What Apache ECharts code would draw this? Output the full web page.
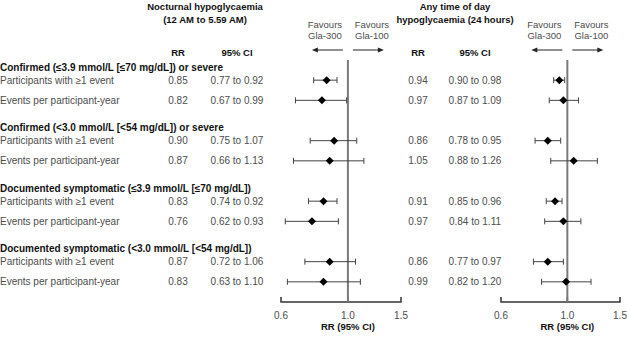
<!DOCTYPE html>
<html><head><meta charset="utf-8">
<script src="https://cdn.jsdelivr.net/npm/echarts@6/dist/echarts.min.js"></script>
<style>html,body{margin:0;padding:0;background:#fff}#c{width:627px;height:338px}</style>
</head><body><div id="c"></div>
<script>
var groupTitles = [
  "Confirmed (≤3.9 mmol/L [≤70 mg/dL]) or severe",
  "Confirmed (<3.0 mmol/L [<54 mg/dL]) or severe",
  "Documented symptomatic (≤3.9 mmol/L [≤70 mg/dL])",
  "Documented symptomatic (<3.0 mmol/L [<54 mg/dL])"
];
var rowLabels = ["Participants with ≥1 event", "Events per participant-year"];

var nocturnalRR   = [0.85, 0.82, 0.90, 0.87, 0.83, 0.76, 0.87, 0.83];
var nocturnalLow  = [0.77, 0.67, 0.75, 0.66, 0.74, 0.62, 0.72, 0.63];
var nocturnalHigh = [0.92, 0.99, 1.07, 1.13, 0.92, 0.93, 1.06, 1.10];

var anyTimeRR   = [0.94, 0.97, 0.86, 1.05, 0.91, 0.97, 0.86, 0.99];
var anyTimeLow  = [0.90, 0.87, 0.78, 0.88, 0.85, 0.84, 0.77, 0.82];
var anyTimeHigh = [0.98, 1.09, 0.95, 1.26, 0.96, 1.11, 0.97, 1.20];

var tickValues = [0.6, 1.0, 1.5];
var referenceValue = 1.0;
var panelTitles = [["Nocturnal hypoglycaemia", "(12 AM to 5.59 AM)"], ["Any time of day", "hypoglycaemia (24 hours)"]];
var favourLabels = ["Favours\nGla-300", "Favours\nGla-100"];
var colHeaders = ["RR", "95% CI"];
var axisTitle = "RR (95% CI)";

var FONT = '"Liberation Sans", Arial, Helvetica, sans-serif';
var TXT = '#4d4d4d';
var chart = echarts.init(document.getElementById('c'), null, {renderer: 'svg'});

function rowIndex(i) { return Math.floor(i / 2) * 3 + (i % 2); }
function toData(rr, lo, hi) { return rr.map(function (v, i) { return [v, lo[i], hi[i], rowIndex(i)]; }); }

function renderBar(params, api) {
  var p = api.coord([api.value(0), api.value(3)]);
  var a = api.coord([api.value(1), api.value(3)]);
  var b = api.coord([api.value(2), api.value(3)]);
  var cap = 3, d = 4;
  var st = {stroke: '#444', lineWidth: 1};
  return {type: 'group', children: [
    {type: 'line', shape: {x1: a[0], y1: a[1], x2: b[0], y2: b[1]}, style: st},
    {type: 'line', shape: {x1: a[0], y1: a[1] - cap, x2: a[0], y2: a[1] + cap}, style: st},
    {type: 'line', shape: {x1: b[0], y1: b[1] - cap, x2: b[0], y2: b[1] + cap}, style: st},
    {type: 'polygon', shape: {points: [[p[0], p[1] - d], [p[0] + d, p[1]], [p[0], p[1] + d], [p[0] - d, p[1]]]}, style: {fill: '#000'}}
  ]};
}

function xAx(i) {
  return {type: 'log', logBase: 10, gridIndex: i, min: 0.6, max: 1.5,
    axisLine: {show: true, onZero: false, lineStyle: {color: '#333', width: 1.5}},
    axisTick: {show: false}, axisLabel: {show: false}, splitLine: {show: false}};
}
function yAx(i) {
  return {type: 'value', gridIndex: i, inverse: true, min: -1, max: 11, show: false,
    axisLine: {onZero: false}, splitLine: {show: false}};
}
function bars(i, data) {
  return {type: 'custom', xAxisIndex: i, yAxisIndex: i, renderItem: renderBar, data: data,
    encode: {x: [0, 1, 2], y: 3}, silent: true, z: 3};
}
function refLine(i) {
  return {type: 'line', xAxisIndex: i, yAxisIndex: i, data: [[referenceValue, -1], [referenceValue, 11]],
    symbol: 'none', silent: true, z: 1, lineStyle: {color: '#7a7a7a', width: 2}};
}

chart.setOption({
  animation: false,
  grid: [{left: 281, width: 120, top: 60, height: 242}, {left: 501, width: 119, top: 60, height: 242}],
  xAxis: [xAx(0), xAx(1)],
  yAxis: [yAx(0), yAx(1)],
  series: [refLine(0), refLine(1),
    bars(0, toData(nocturnalRR, nocturnalLow, nocturnalHigh)), bars(1, toData(anyTimeRR, anyTimeLow, anyTimeHigh))]
});

function txt(x, y, s, opt) {
  opt = opt || {};
  return {type: 'text', x: x, y: y, silent: true, style: {
    text: s, fill: opt.fill || TXT, fontSize: opt.size || 10, fontWeight: opt.bold ? 'bold' : 'normal',
    fontFamily: FONT, align: opt.align || 'left', verticalAlign: 'middle', lineHeight: opt.lh || 11}};
}

var g = [];
var cols = [{rr: 178, ci: 237, title: 205, vals: [nocturnalRR, nocturnalLow, nocturnalHigh]},
            {rr: 418, ci: 475, title: 455, vals: [anyTimeRR, anyTimeLow, anyTimeHigh]}];
var headY = 52, arrowY = 50;
cols.forEach(function (c, p) {
  var xRef = chart.convertToPixel({xAxisIndex: p}, referenceValue);
  var yBot = chart.convertToPixel({yAxisIndex: p}, 11);
  g.push(txt(c.title, 6, panelTitles[p][0], {bold: true, fill: '#111', align: 'center', size: 9.5}));
  g.push(txt(c.title, 19, panelTitles[p][1], {bold: true, fill: '#111', align: 'center', size: 9.5}));
  g.push(txt(c.rr, headY, colHeaders[0], {bold: true, fill: '#111', align: 'center', size: 9.5}));
  g.push(txt(c.ci, headY, colHeaders[1], {bold: true, fill: '#111', align: 'center', size: 9.5}));
  g.push(txt(xRef - 23, 30, favourLabels[0], {align: 'center', size: 9.5}));
  g.push(txt(xRef + 24, 30, favourLabels[1], {align: 'center', size: 9.5}));
  g.push({type: 'line', silent: true, shape: {x1: xRef - 5, y1: arrowY, x2: xRef - 31, y2: arrowY}, style: {stroke: '#222', lineWidth: 1}});
  g.push({type: 'polygon', silent: true, shape: {points: [[xRef - 36, arrowY], [xRef - 30, arrowY - 2.5], [xRef - 30, arrowY + 2.5]]}, style: {fill: '#222'}});
  g.push({type: 'line', silent: true, shape: {x1: xRef + 5, y1: arrowY, x2: xRef + 31, y2: arrowY}, style: {stroke: '#222', lineWidth: 1}});
  g.push({type: 'polygon', silent: true, shape: {points: [[xRef + 36, arrowY], [xRef + 30, arrowY - 2.5], [xRef + 30, arrowY + 2.5]]}, style: {fill: '#222'}});
  tickValues.forEach(function (v) {
    var x = chart.convertToPixel({xAxisIndex: p}, v);
    g.push({type: 'line', silent: true, shape: {x1: x, y1: yBot, x2: x, y2: yBot - 5}, style: {stroke: '#333', lineWidth: 1.5}});
    g.push(txt(x, yBot + 13, v.toFixed(1), {align: 'center'}));
  });
  g.push(txt(xRef, yBot + 24, axisTitle, {bold: true, fill: '#111', align: 'center', size: 9.5}));
  c.vals[0].forEach(function (v, i) {
    var y = chart.convertToPixel({yAxisIndex: p}, rowIndex(i));
    g.push(txt(c.rr, y, v.toFixed(2), {align: 'center'}));
    g.push(txt(c.ci, y, c.vals[1][i].toFixed(2) + ' to ' + c.vals[2][i].toFixed(2), {align: 'center'}));
  });
});
groupTitles.forEach(function (t, k) {
  var y = chart.convertToPixel({yAxisIndex: 0}, rowIndex(2 * k));
  g.push(txt(0, y - 13, t, {bold: true, fill: '#111'}));
  g.push(txt(0, y, rowLabels[0]));
  g.push(txt(0, chart.convertToPixel({yAxisIndex: 0}, rowIndex(2 * k + 1)), rowLabels[1]));
});
chart.setOption({graphic: {elements: g}});
</script>
</body></html>
